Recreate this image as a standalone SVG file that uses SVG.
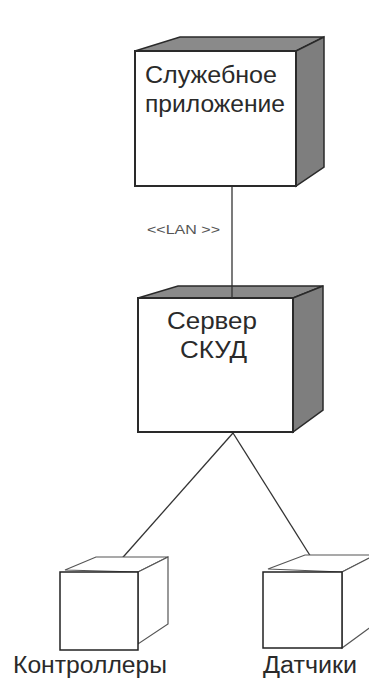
<svg xmlns="http://www.w3.org/2000/svg" width="369" height="682" viewBox="0 0 369 682">
<style>
.face{fill:#ffffff;stroke:#2a2a2a;stroke-width:2}
.top{fill:#8a8a8a;stroke:#2a2a2a;stroke-width:1.5}
.side{fill:#7e7e7e;stroke:#2a2a2a;stroke-width:1.5}
.lface{fill:#ffffff;stroke:#222;stroke-width:1.5}
.lthin{fill:#ffffff;stroke:#555;stroke-width:1.2}
.conn{stroke:#333;stroke-width:1.3;fill:none}
.t{font-family:"Liberation Sans",Arial,sans-serif;font-size:23px;fill:#2a2a2a}
.s{font-family:"Liberation Sans",Arial,sans-serif;font-size:13px;fill:#555}
</style>
<rect width="369" height="682" fill="#ffffff"/>
<g id="connectors">
<line class="conn" x1="232" y1="187" x2="232" y2="298"/>
<line class="conn" x1="233" y1="433" x2="117" y2="564"/>
<line class="conn" x1="233" y1="433" x2="316" y2="565"/>
<text class="s" x="147" y="234" textLength="73" lengthAdjust="spacingAndGlyphs">&lt;&lt;LAN &gt;&gt;</text>
</g>
<g id="app">
<polygon class="top" points="135,51 180,37 324,37 296,51"/>
<polygon class="side" points="296,51 324,37 324,167 296,186"/>
<rect class="face" x="135" y="51" width="161" height="135"/>
<text class="t" x="145" y="83" textLength="132" lengthAdjust="spacingAndGlyphs">Служебное</text>
<text class="t" x="145" y="112" textLength="140" lengthAdjust="spacingAndGlyphs">приложение</text>
</g>
<g id="server">
<polygon class="top" points="138,298 178,286 323,286 293,298"/>
<polygon class="side" points="293,298 323,286 323,410 293,432"/>
<rect class="face" x="138" y="298" width="155" height="134"/>
<line class="conn" x1="232" y1="286" x2="232" y2="298"/>
<text class="t" x="167" y="329" textLength="90" lengthAdjust="spacingAndGlyphs">Сервер</text>
<text class="t" x="180" y="358" textLength="67" lengthAdjust="spacingAndGlyphs">СКУД</text>
</g>
<g id="controllers">
<polygon class="lthin" points="65,570 96,557 168,557 138,572"/>
<polygon class="lthin" points="138,572 168,557 168,624 138,644"/>
<rect class="lface" x="60" y="572" width="78" height="78"/>
<text class="t" x="13" y="673" textLength="154" lengthAdjust="spacingAndGlyphs">Контроллеры</text>
</g>
<g id="sensors">
<polygon class="lthin" points="268,569 305,555 375,555 342,572"/>
<polygon class="lthin" points="342,572 375,555 375,624 342,648"/>
<rect class="lface" x="263" y="572" width="79" height="76"/>
<text class="t" x="263" y="673" textLength="94" lengthAdjust="spacingAndGlyphs">Датчики</text>
</g>
</svg>
